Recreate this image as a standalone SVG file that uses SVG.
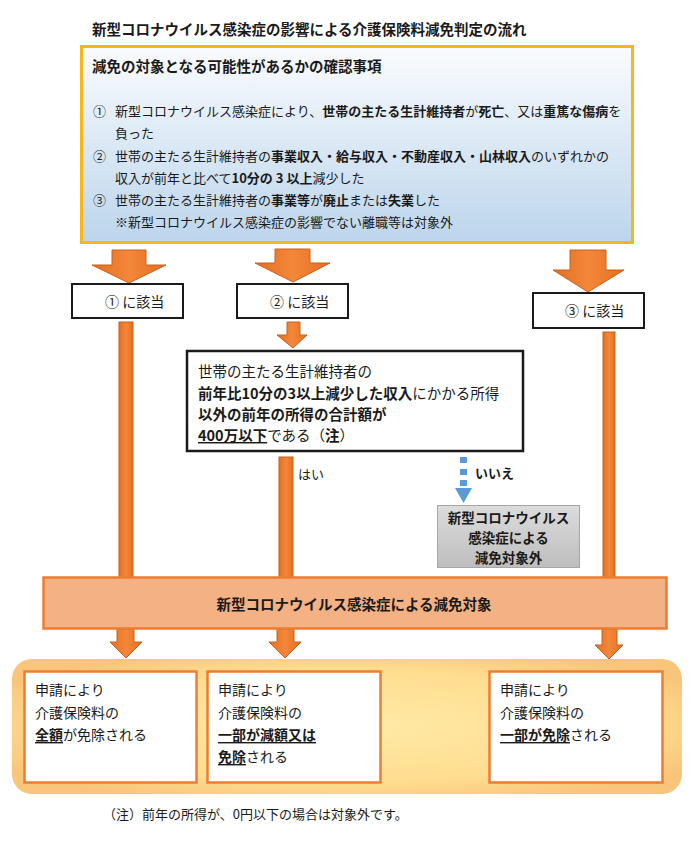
<svg xmlns="http://www.w3.org/2000/svg" width="700" height="842" viewBox="0 0 700 842">
<defs>
<linearGradient id="gBlue" x1="0" y1="0" x2="0" y2="1">
<stop offset="0" stop-color="#FAFCFE"/>
<stop offset="1" stop-color="#BCD5EC"/>
</linearGradient>
<linearGradient id="gGray" x1="0" y1="0" x2="0" y2="1">
<stop offset="0" stop-color="#DCDCDC"/>
<stop offset="1" stop-color="#BDBDBD"/>
</linearGradient>
<radialGradient id="gCont" cx="0.5" cy="0.5" r="0.6">
<stop offset="0" stop-color="#FFEAA6"/>
<stop offset="0.7" stop-color="#FFDD90"/>
<stop offset="1" stop-color="#F8C57A"/>
</radialGradient>
<linearGradient id="gOr" x1="0" y1="0" x2="1" y2="0">
<stop offset="0" stop-color="#E46F20"/>
<stop offset="0.5" stop-color="#F3873A"/>
<stop offset="1" stop-color="#E46F20"/>
</linearGradient>
<style>
text{font-family:"Noto Sans CJK JP","Noto Sans CJK SC",sans-serif;fill:#1a1a1a;dominant-baseline:central}
.b{font-weight:700}
.u{text-decoration:underline}
.t13{font-size:13px}
.t135{font-size:13.5px}
.t14{font-size:14px}
.t145{font-size:14.5px}
.arrow{fill:url(#gOr);stroke:#C8601A;stroke-width:1}
.lbl{fill:#fff;stroke:#1a1a1a;stroke-width:2}
.res{fill:#fff;stroke:#ED7D31;stroke-width:2.5}
</style>
</defs>
<rect width="700" height="842" fill="#fff"/>

<text id="title" x="92" y="28" class="b t145">新型コロナウイルス感染症の影響による介護保険料減免判定の流れ</text>

<g id="check">
<rect x="81.5" y="46.5" width="551" height="196" fill="url(#gBlue)" stroke="#F6B818" stroke-width="3"/>
<text x="92" y="65" class="b t145">減免の対象となる可能性があるかの確認事項</text>
<text x="93" y="110" class="t13">①</text>
<text x="115" y="110" class="t13">新型コロナウイルス感染症により、<tspan class="b">世帯の主たる生計維持者</tspan>が<tspan class="b">死亡</tspan>、又は<tspan class="b">重篤な傷病</tspan>を</text>
<text x="115" y="132" class="t13">負った</text>
<text x="93" y="155" class="t13">②</text>
<text x="115" y="155" class="t13">世帯の主たる生計維持者の<tspan class="b">事業収入・給与収入・不動産収入・山林収入</tspan>のいずれかの</text>
<text x="115" y="177" class="t13">収入が前年と比べて<tspan class="b">10分の 3 以上</tspan>減少した</text>
<text x="93" y="199" class="t13">③</text>
<text x="115" y="199" class="t13">世帯の主たる生計維持者の<tspan class="b">事業等</tspan>が<tspan class="b">廃止</tspan>または<tspan class="b">失業</tspan>した</text>
<text x="115" y="221" class="t13">※新型コロナウイルス感染症の影響でない離職等は対象外</text>
</g>

<g id="connectors">
<path class="arrow" d="M112,250 H146 V265 H166 L129,283 L92,265 H112 Z"/>
<path class="arrow" d="M275,249 H310 V263 H330 L293,282 L255,263 H275 Z"/>
<path class="arrow" d="M570,250 H606 V270 H624 L588,292 L553,270 H570 Z"/>
<path class="arrow" d="M287,322 H300 V335 H307 L293,348 L277,335 H287 Z"/>
<rect class="arrow" x="119" y="322" width="14" height="256"/>
<rect class="arrow" x="603" y="332" width="12" height="246"/>
<rect class="arrow" x="279" y="457" width="14" height="121"/>
<g fill="#5B9BD5">
<rect x="460" y="457" width="7" height="6"/>
<rect x="460" y="469" width="7" height="6"/>
<rect x="460" y="480" width="7" height="6"/>
<path d="M455,488 H472 L463.5,503 Z"/>
</g>
<text x="298" y="473" class="t13">はい</text>
<text x="475" y="472" class="b t13">いいえ</text>
<path class="arrow" d="M117,629 H134 V642 H142 L126,658 L110,642 H117 Z"/>
<path class="arrow" d="M277,629 H294 V642 H301 L285,658 L269,642 H277 Z"/>
<path class="arrow" d="M602,629 H617 V645 H623 L609,659 L595,645 H602 Z"/>
</g>

<g id="case1">
<rect class="lbl" x="72" y="284" width="111" height="34"/>
<text x="105" y="301" class="t14">① に該当</text>
</g>
<g id="case2">
<rect class="lbl" x="237" y="284" width="111" height="34"/>
<text x="270" y="301" class="t14">② に該当</text>
</g>
<g id="case3">
<rect class="lbl" x="533" y="293" width="111" height="35"/>
<text x="565" y="310" class="t14">③ に該当</text>
</g>

<g id="decision">
<rect x="187" y="351" width="336" height="100" fill="#fff" stroke="#1a1a1a" stroke-width="2.5"/>
<text x="198" y="370" class="t145">世帯の主たる生計維持者の</text>
<text x="198" y="392" class="t145"><tspan class="b">前年比10分の3以上減少した収入</tspan>にかかる所得</text>
<text x="198" y="413" class="t145 b">以外の前年の所得の合計額が</text>
<text x="198" y="434" class="t145"><tspan class="b u">400万以下</tspan>である（<tspan class="b">注</tspan>）</text>
</g>

<g id="excluded">
<rect x="437.5" y="505.5" width="142" height="62" fill="url(#gGray)" stroke="#A6A6A6" stroke-width="1"/>
<text x="508.5" y="517" class="b t135" text-anchor="middle">新型コロナウイルス</text>
<text x="508.5" y="537" class="b t135" text-anchor="middle">感染症による</text>
<text x="508.5" y="557" class="b t135" text-anchor="middle">減免対象外</text>
</g>

<g id="target">
<rect x="43.5" y="577.5" width="623" height="51" fill="#F4B183" stroke="#ED7D31" stroke-width="2.5"/>
<text x="354" y="603" class="b t145" text-anchor="middle">新型コロナウイルス感染症による減免対象</text>
</g>

<g id="results">
<rect x="12" y="659" width="670" height="135" rx="20" fill="url(#gCont)"/>
</g>
<g id="result1">
<rect class="res" x="24.5" y="671.5" width="172" height="111"/>
<text x="35" y="689" class="t14">申請により</text>
<text x="35" y="712" class="t14">介護保険料の</text>
<text x="35" y="734" class="t14"><tspan class="b u">全額</tspan>が免除される</text>
</g>
<g id="result2">
<rect class="res" x="207.5" y="671.5" width="173" height="111"/>
<text x="218" y="689" class="t14">申請により</text>
<text x="218" y="712" class="t14">介護保険料の</text>
<text x="218" y="734" class="t14 b u">一部が減額又は</text>
<text x="218" y="756" class="t14"><tspan class="b u">免除</tspan>される</text>
</g>
<g id="result3">
<rect class="res" x="489.5" y="671.5" width="173" height="111"/>
<text x="500" y="689" class="t14">申請により</text>
<text x="500" y="712" class="t14">介護保険料の</text>
<text x="500" y="734" class="t14"><tspan class="b u">一部が免除</tspan>される</text>
</g>

<text id="note" x="103" y="813" class="t13">（注）前年の所得が、0円以下の場合は対象外です。</text>
</svg>
